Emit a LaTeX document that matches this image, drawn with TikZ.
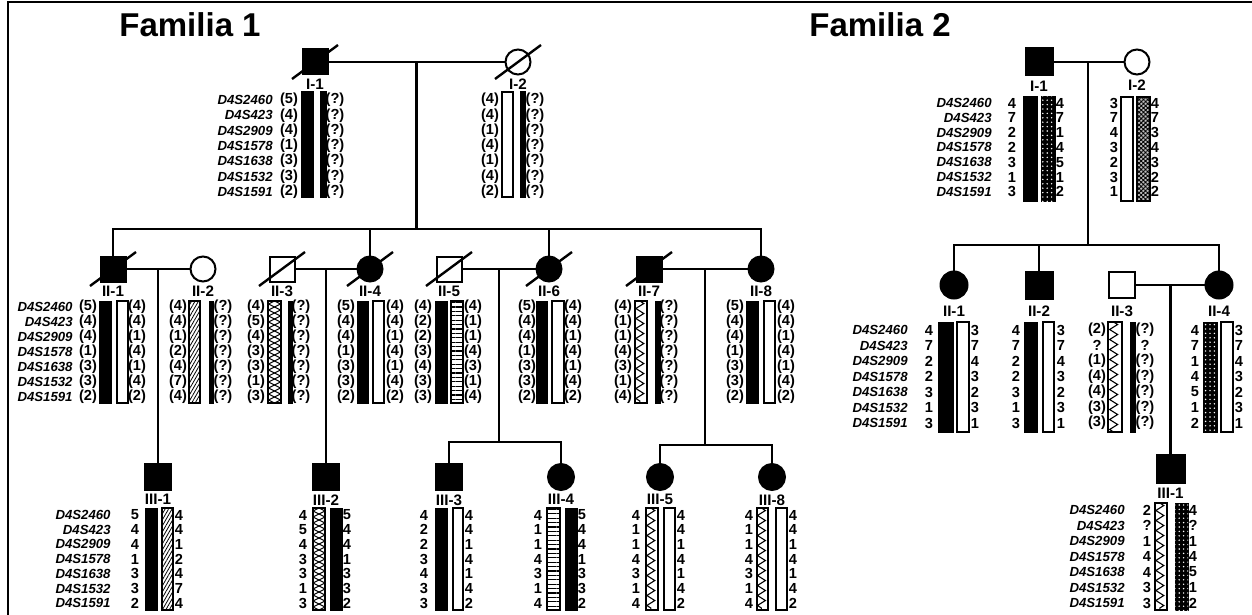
\documentclass[tikz,border=0pt]{standalone}
\usepackage{fontspec}
\setmainfont{Liberation Sans}
\usetikzlibrary{
  positioning,
  calc,
  patterns.meta,
  decorations.pathmorphing
}
\tikzset{
  pedsym/.style={draw=black,line width=1pt,inner sep=0pt,minimum size=12.5pt},
  affmale/.style={pedsym,rectangle,fill=black},
  unmale/.style={pedsym,rectangle,fill=white},
  afffemale/.style={pedsym,circle,fill=black},
  unfemale/.style={pedsym,circle,fill=white},
  pedline/.style={line width=1.1pt},
  deadline/.style={line width=1.2pt},
  framerule/.style={line width=1pt},
  famtitle/.style={font=\fontsize{16.5}{16.5}\selectfont\bfseries,inner sep=0pt},
  pedlabel/.style={font=\fontsize{7.6}{7.6}\selectfont\bfseries,inner sep=0pt},
  markerlabel/.style={font=\fontsize{6.6}{6.6}\selectfont\bfseries\itshape,anchor=east,inner sep=0pt},
  allele/.style={font=\fontsize{7.3}{7.3}\selectfont\bfseries,inner sep=0pt},
  solidbar/.style={draw=black,fill=black,line width=.5pt},
  openbar/.style={draw=black,fill=white,line width=.7pt},
  hatchbar/.style={draw=black,line width=.6pt,
    pattern={Lines[angle=60,distance=1.5pt,line width=.4pt]}},
  stripebar/.style={draw=black,line width=.6pt,
    pattern={Lines[angle=0,distance=2.2pt,line width=.6pt]}},
  dotbar/.style={draw=black,fill=black,line width=.5pt,
    postaction={pattern={Dots[radius=.4pt,distance=2.2pt]},pattern color=white}},
  gridbar/.style={draw=black,fill=black!25,line width=.6pt,
    postaction={pattern={Hatch[angle=45,distance=1.5pt,line width=.45pt]}}},
  zigbar/.style={draw=black,fill=white,line width=.6pt,path picture={
    \draw[line width=.55pt,decorate,decoration={zigzag,segment length=5pt,amplitude=2pt}]
      ($(path picture bounding box.north west)!.4!(path picture bounding box.north east)$) --
      ($(path picture bounding box.south west)!.4!(path picture bounding box.south east)$);}},
  crossbar/.style={draw=black,fill=white,line width=.6pt,path picture={
    \foreach \mr in {false,true}
      \draw[line width=.55pt,decorate,decoration={zigzag,segment length=6pt,amplitude=3pt,mirror=\mr}]
        (path picture bounding box.north) -- (path picture bounding box.south);}},
}
% marker names, one column per haplotype block
\newcommand{\markerset}[4]{%
  \foreach \m [count=\i from 0] in {D4S2460,D4S423,D4S2909,D4S1578,D4S1638,D4S1532,D4S1591}
    \node[markerlabel] (#1m\i) at (#2,#3+\i*#4) {\m};}
% allele column
\newcommand{\alleles}[5]{%
  \foreach \v [count=\i from 0] in {#5}
    \node[allele] (#1\i) at (#2,#3+\i*#4) {\v};}
% one chromosome bar
\newcommand{\chromo}[5]{\draw[#1] (#2,#3) rectangle ++(#4,#5);}

\begin{document}
\begin{tikzpicture}[x=0.5pt,y=-0.5pt]
  \useasboundingbox (0,0) rectangle (1252,615);
  % Frame and titles
  \draw[framerule] (8,615) -- (8,2) -- (1252,2);
  \node[famtitle] (title1) at (190,25) {Familia 1};
  \node[famtitle] (title2) at (880,25) {Familia 2};

  % Familia 1, generation I
  \node[affmale] (f1I1) at (315,62) {};
  \node[unfemale] (f1I2) at (518,62) {};
  \node[pedlabel,below=1.5pt of f1I1] (f1I1lab) {I-1};
  \node[pedlabel,below=1.5pt of f1I2] (f1I2lab) {I-2};
  \draw[pedline] (f1I1) -- (f1I2);
  \coordinate (f1c1) at ($(f1I1)!.5!(f1I2)$);
  \coordinate (f1sib) at (0,229);
  \markerset{f1I1}{273}{100}{15.3}
  \alleles{f1I1a}{289}{100}{15.3}{(5),(4),(4),(1),(3),(3),(2)}
  \chromo{solidbar}{301}{92}{12}{105}
  \chromo{solidbar}{320}{92}{6}{105}
  \alleles{f1I1b}{335}{100}{15.3}{(?),(?),(?),(?),(?),(?),(?)}
  \alleles{f1I2a}{490}{100}{15.3}{(4),(4),(1),(4),(1),(4),(2)}
  \chromo{openbar}{502}{92}{11}{105}
  \chromo{solidbar}{520}{92}{5}{105}
  \alleles{f1I2b}{535}{100}{15.3}{(?),(?),(?),(?),(?),(?),(?)}

  % Familia 1, generation II
  \node[affmale] (f1II1) at (113,269) {};
  \node[unfemale] (f1II2) at (203,269) {};
  \node[unmale] (f1II3) at (282,269) {};
  \node[afffemale] (f1II4) at (370,269) {};
  \node[unmale] (f1II5) at (449,269) {};
  \node[afffemale] (f1II6) at (549,269) {};
  \node[affmale] (f1II7) at (649,269) {};
  \node[afffemale] (f1II8) at (761,269) {};
  \foreach \p/\t in {1/II-1,2/II-2,3/II-3,4/II-4,5/II-5,6/II-6,7/II-7,8/II-8}
    \node[pedlabel,below=1.5pt of f1II\p] (f1II\p lab) {\t};
  \draw[pedline] (f1c1) -- (f1c1 |- f1sib);
  \draw[pedline] (f1II1.north) |- (f1II8 |- f1sib) -- (f1II8.north);
  \draw[pedline] (f1II4.north) -- (f1II4 |- f1sib);
  \draw[pedline] (f1II6.north) -- (f1II6 |- f1sib);
  \draw[pedline] (f1II1) -- (f1II2);
  \draw[pedline] (f1II3) -- (f1II4);
  \draw[pedline] (f1II5) -- (f1II6);
  \draw[pedline] (f1II7) -- (f1II8);
  \coordinate (f1c2) at ($(f1II1)!.5!(f1II2)$);
  \coordinate (f1c3) at ($(f1II3)!.5!(f1II4)$);
  \coordinate (f1c4) at ($(f1II5)!.5!(f1II6)$);
  \coordinate (f1c5) at ($(f1II7)!.5!(f1II8)$);

  \markerset{f1II1}{73}{307}{15}
  \alleles{f1II1a}{88}{307}{15}{(5),(4),(4),(1),(3),(3),(2)}
  \chromo{solidbar}{99}{301}{12}{102}
  \chromo{openbar}{117}{301}{11}{102}
  \alleles{f1II1b}{137}{307}{15}{(4),(4),(1),(4),(1),(4),(2)}

  \alleles{f1II2a}{178}{307}{15}{(4),(4),(1),(2),(4),(7),(4)}
  \chromo{hatchbar}{189}{301}{11}{102}
  \chromo{solidbar}{209}{301}{4}{102}
  \alleles{f1II2b}{223}{307}{15}{(?),(?),(?),(?),(?),(?),(?)}

  \alleles{f1II3a}{256}{307}{15}{(4),(5),(4),(3),(3),(1),(3)}
  \chromo{crossbar}{268}{301}{13}{102}
  \chromo{solidbar}{288}{301}{4}{102}
  \alleles{f1II3b}{301}{307}{15}{(?),(?),(?),(?),(?),(?),(?)}

  \alleles{f1II4a}{346}{307}{15}{(5),(4),(4),(1),(3),(3),(2)}
  \chromo{solidbar}{357}{301}{11}{102}
  \chromo{openbar}{373}{301}{11}{102}
  \alleles{f1II4b}{395}{307}{15}{(4),(4),(1),(4),(1),(4),(2)}

  \alleles{f1II5a}{423}{307}{15}{(4),(2),(2),(3),(4),(3),(3)}
  \chromo{solidbar}{435}{301}{12}{102}
  \chromo{stripebar}{451}{301}{12}{102}
  \alleles{f1II5b}{473}{307}{15}{(4),(1),(1),(4),(3),(1),(4)}

  \alleles{f1II6a}{527}{307}{15}{(5),(4),(4),(1),(3),(3),(2)}
  \chromo{solidbar}{536}{301}{11}{102}
  \chromo{openbar}{552}{301}{12}{102}
  \alleles{f1II6b}{573}{307}{15}{(4),(4),(1),(4),(1),(4),(2)}

  \alleles{f1II7a}{623}{307}{15}{(4),(1),(1),(4),(3),(1),(4)}
  \chromo{zigbar}{635}{301}{12}{102}
  \chromo{solidbar}{655}{301}{5}{102}
  \alleles{f1II7b}{669}{307}{15}{(?),(?),(?),(?),(?),(?),(?)}

  \alleles{f1II8a}{735}{307}{15}{(5),(4),(4),(1),(3),(3),(2)}
  \chromo{solidbar}{746}{301}{12}{102}
  \chromo{openbar}{764}{301}{11}{102}
  \alleles{f1II8b}{786}{307}{15}{(4),(4),(1),(4),(1),(4),(2)}

  % Familia 1, generation III
  \node[affmale,minimum size=13pt] (f1III1) at (f1c2 |- 0,477) {};
  \node[affmale,minimum size=13pt] (f1III2) at (f1c3 |- 0,477) {};
  \node[affmale,minimum size=13pt] (f1III3) at (449,477) {};
  \node[afffemale,minimum size=13pt] (f1III4) at (561,477) {};
  \node[afffemale,minimum size=13pt] (f1III5) at (660,477) {};
  \node[afffemale,minimum size=13pt] (f1III6) at (772,477) {};
  \foreach \p/\t in {1/III-1,2/III-2,3/III-3,4/III-4,5/III-5,6/III-8}
    \node[pedlabel,below=1.5pt of f1III\p] (f1III\p lab) {\t};
  \coordinate (f1sib3) at (0,442);
  \coordinate (f1sib4) at (0,445);
  \draw[pedline] (f1c2) -- (f1III1.north);
  \draw[pedline] (f1c3) -- (f1III2.north);
  \draw[pedline] (f1c4) -- (f1c4 |- f1sib3);
  \draw[pedline] (f1III3.north) |- (f1III4 |- f1sib3) -- (f1III4.north);
  \draw[pedline] (f1c5) -- (f1c5 |- f1sib4);
  \draw[pedline] (f1III5.north) |- (f1III6 |- f1sib4) -- (f1III6.north);

  \markerset{f1III1}{111}{515}{14.7}
  \alleles{f1III1a}{135}{515}{14.7}{5,4,4,1,3,3,2}
  \chromo{solidbar}{145}{508}{12}{102}
  \chromo{hatchbar}{162}{508}{11}{102}
  \alleles{f1III1b}{179}{515}{14.7}{4,4,1,2,4,7,4}

  \alleles{f1III2a}{303}{515}{14.7}{4,5,4,3,3,1,3}
  \chromo{crossbar}{313}{508}{12}{102}
  \chromo{solidbar}{330}{508}{12}{102}
  \alleles{f1III2b}{347}{515}{14.7}{5,4,4,1,3,3,2}

  \alleles{f1III3a}{424}{515}{14.7}{4,2,2,3,4,3,3}
  \chromo{solidbar}{435}{508}{12}{102}
  \chromo{openbar}{453}{508}{10}{102}
  \alleles{f1III3b}{469}{515}{14.7}{4,4,1,4,1,4,2}

  \alleles{f1III4a}{538}{515}{14.7}{4,1,1,4,3,1,4}
  \chromo{stripebar}{547}{508}{13}{102}
  \chromo{solidbar}{565}{508}{12}{102}
  \alleles{f1III4b}{582}{515}{14.7}{5,4,4,1,3,3,2}

  \alleles{f1III5a}{636}{515}{14.7}{4,1,1,4,3,1,4}
  \chromo{zigbar}{646}{508}{12}{102}
  \chromo{openbar}{664}{508}{11}{102}
  \alleles{f1III5b}{681}{515}{14.7}{4,4,1,4,1,4,2}

  \alleles{f1III6a}{749}{515}{14.7}{4,1,1,4,3,1,4}
  \chromo{zigbar}{757}{508}{11}{102}
  \chromo{openbar}{776}{508}{11}{102}
  \alleles{f1III6b}{793}{515}{14.7}{4,4,1,4,1,4,2}

  % deceased marks, Familia 1
  \foreach \p in {f1I1,f1I2,f1II1,f1II3,f1II4,f1II5,f1II6,f1II7}
    \draw[deadline] ($(\p)+(-23,17)$) -- ($(\p)+(23,-17)$);

  % Familia 2, generation I
  \node[affmale,minimum size=13.5pt] (f2I1) at (1039,62) {};
  \node[unfemale] (f2I2) at (1137,62) {};
  \node[pedlabel,below=2pt of f2I1] (f2I1lab) {I-1};
  \node[pedlabel,below=2pt of f2I2] (f2I2lab) {I-2};
  \draw[pedline] (f2I1) -- (f2I2);
  \coordinate (f2c1) at ($(f2I1)!.5!(f2I2)$);
  \coordinate (f2sib) at (0,245);
  \markerset{f2I1}{992}{103}{14.8}
  \alleles{f2I1a}{1012}{103}{14.8}{4,7,2,2,3,1,3}
  \chromo{solidbar}{1023}{97}{14}{104}
  \chromo{dotbar}{1041}{97}{14}{104}
  \alleles{f2I1b}{1060}{103}{14.8}{4,7,1,4,5,1,2}
  \alleles{f2I2a}{1114}{103}{14.8}{3,7,4,3,2,3,1}
  \chromo{openbar}{1121}{97}{12}{104}
  \chromo{gridbar}{1137}{97}{13}{104}
  \alleles{f2I2b}{1155}{103}{14.8}{4,7,3,4,3,2,2}

  % Familia 2, generation II
  \node[afffemale,minimum size=13.5pt] (f2II1) at (954,285) {};
  \node[affmale,minimum size=13.5pt] (f2II2) at (1039,285) {};
  \node[unmale,minimum size=13pt] (f2II3) at (1122,285) {};
  \node[afffemale,minimum size=13.5pt] (f2II4) at (1219,285) {};
  \foreach \p/\t in {1/II-1,2/II-2,3/II-3,4/II-4}
    \node[pedlabel,below=3pt of f2II\p] (f2II\p lab) {\t};
  \draw[pedline] (f2c1) -- (f2c1 |- f2sib);
  \draw[pedline] (f2II1.north) |- (f2II4 |- f2sib) -- (f2II4.north);
  \draw[pedline] (f2II2.north) -- (f2II2 |- f2sib);
  \draw[pedline] (f2II3) -- (f2II4);
  \coordinate (f2c2) at ($(f2II3)!.5!(f2II4)$);

  \markerset{f2II1}{908}{330}{15.5}
  \alleles{f2II1a}{929}{330}{15.5}{4,7,2,2,3,1,3}
  \chromo{solidbar}{938}{322}{15}{110}
  \chromo{openbar}{957}{322}{12}{110}
  \alleles{f2II1b}{975}{330}{15.5}{3,7,4,3,2,3,1}

  \alleles{f2II2a}{1016}{330}{15.5}{4,7,2,2,3,1,3}
  \chromo{solidbar}{1024}{322}{13}{110}
  \chromo{openbar}{1043}{322}{11}{110}
  \alleles{f2II2b}{1061}{330}{15.5}{3,7,4,3,2,3,1}

  \alleles{f2II3a}{1097}{330}{15.5}{(2),?,(1),(4),(4),(3),(3)}
  \chromo{zigbar}{1108}{322}{14}{110}
  \chromo{solidbar}{1130}{322}{5}{110}
  \alleles{f2II3b}{1145}{330}{15.5}{(?),?,(?),(?),(?),(?),(?)}

  \alleles{f2II4a}{1195}{330}{15.5}{4,7,1,4,5,1,2}
  \chromo{dotbar}{1203}{322}{14}{110}
  \chromo{openbar}{1221}{322}{12}{110}
  \alleles{f2II4b}{1239}{330}{15.5}{3,7,4,3,2,3,1}

  % Familia 2, generation III
  \node[affmale,minimum size=14pt] (f2III1) at (f2c2 |- 0,469) {};
  \node[pedlabel,below=2pt of f2III1] (f2III1lab) {III-1};
  \draw[pedline] (f2c2) -- (f2III1.north);
  \markerset{f2III1}{1125}{510}{15.5}
  \alleles{f2III1a}{1147}{510}{15.5}{2,?,1,4,4,3,3}
  \chromo{zigbar}{1155}{503}{12}{107}
  \chromo{dotbar}{1175}{503}{13}{107}
  \alleles{f2III1b}{1193}{510}{15.5}{4,?,1,4,5,1,2}
\end{tikzpicture}
\end{document}
